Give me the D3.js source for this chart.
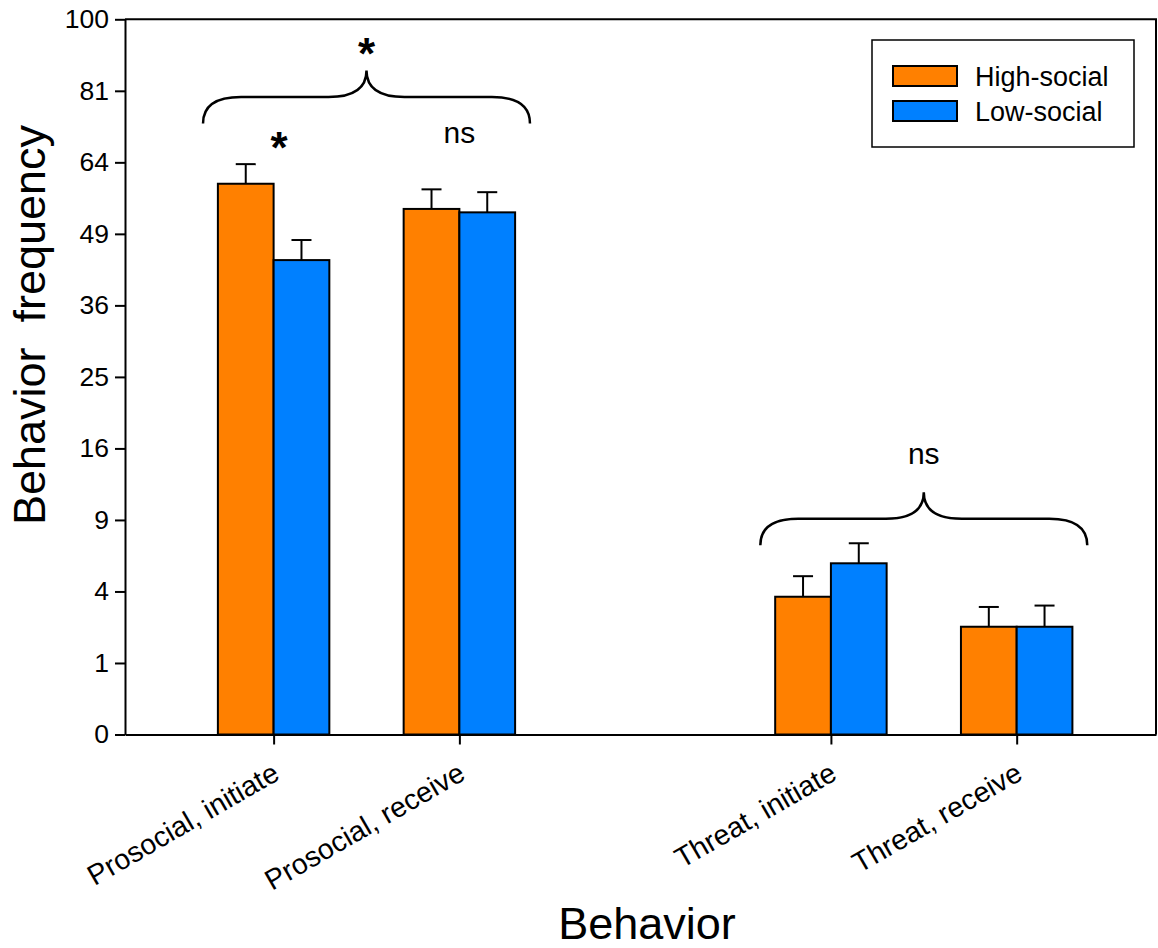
<!DOCTYPE html>
<html>
<head>
<meta charset="utf-8">
<script src="https://cdn.jsdelivr.net/npm/d3@7"></script>
<style>
  body { margin: 0; background: #fff; }
  text { font-family: "Liberation Sans", Arial, sans-serif; fill: #000; }
  .axis path, .axis line { stroke: #000; stroke-width: 2; }
</style>
</head>
<body>
<div id="chart"></div>
<script>
const categories = ["Prosocial, initiate", "Prosocial, receive", "Threat, initiate", "Threat, receive"];
const positions = [1, 2, 4, 5];
const series = ["High-social", "Low-social"];
const highMean = [59.3, 54.0, 3.71, 2.27];
const highUpper = [63.6, 58.1, 4.90, 3.18];
const lowMean = [44.0, 53.3, 5.73, 2.27];
const lowUpper = [47.8, 57.5, 7.15, 3.25];
const yTicks = [0, 1, 4, 9, 16, 25, 36, 49, 64, 81, 100];

// significance marks
const braces = [
    {x0: 0.62, x1: 2.38, base: 73, label: "*"},
    {x0: 3.62, x1: 5.38, base: 7.0, label: "ns"}
];
const pairLabels = [
    {x: 1.03, value: 68.5, label: "*"},
    {x: 2.0, value: 68.5, label: "ns"}
];

const width = 1158;
const height = 948;
const margin = {top: 19.3, left: 125, right: 2, bottom: 213.5};

const svg = d3.select("#chart")
    .append("svg")
    .attr("width", width)
    .attr("height", height);

const xScale = d3.scaleLinear()
    .domain([0.2, 5.75])
    .range([margin.left, width - margin.right]);
const yScale = d3.scaleSqrt()
    .domain([0, 100])
    .range([height - margin.bottom, margin.top]);
const colorScale = d3.scaleOrdinal()
    .domain(series)
    .range(["#ff8000", "#0080ff"]);

const barW = xScale(1.3) - xScale(1);

// frame (top + right)
svg.append("path")
    .attr("d", `M${margin.left},${margin.top}H${width - margin.right}V${height - margin.bottom}`)
    .attr("fill", "none")
    .attr("stroke", "#000")
    .attr("stroke-width", 2);

const rows = [];
categories.forEach(function(c, i) {
    rows.push({cat: c, pos: positions[i], s: series[0], mean: highMean[i], upper: highUpper[i], side: -1});
    rows.push({cat: c, pos: positions[i], s: series[1], mean: lowMean[i], upper: lowUpper[i], side: 0});
});

// error bars (upper only)
const err = svg.append("g").attr("stroke", "#000").attr("stroke-width", 2);
rows.forEach(function(d) {
    let cx = xScale(d.pos) + d.side * barW + barW / 2;
    err.append("line")
        .attr("x1", cx).attr("x2", cx)
        .attr("y1", yScale(d.mean)).attr("y2", yScale(d.upper));
    err.append("line")
        .attr("x1", cx - 10).attr("x2", cx + 10)
        .attr("y1", yScale(d.upper)).attr("y2", yScale(d.upper));
});

svg.selectAll("rect.bar")
    .data(rows)
    .enter()
    .append("rect")
        .attr("class", "bar")
        .attr("x", function(d) { return xScale(d.pos) + d.side * barW; })
        .attr("y", function(d) { return yScale(d.mean); })
        .attr("width", barW)
        .attr("height", function(d) { return yScale(0) - yScale(d.mean); })
        .attr("fill", function(d) { return colorScale(d.s); })
        .attr("stroke", "#000")
        .attr("stroke-width", 2);

const yAxis = svg.append("g")
    .attr("class", "axis")
    .attr("transform", `translate(${margin.left},0)`)
    .call(d3.axisLeft(yScale).tickValues(yTicks).tickSize(10).tickSizeOuter(0).tickPadding(6));
yAxis.selectAll("text").style("font-size", "26.5px");

const xAxis = svg.append("g")
    .attr("class", "axis")
    .attr("transform", `translate(0,${height - margin.bottom})`)
    .call(d3.axisBottom(xScale).tickValues(positions)
        .tickFormat(function(d, i) { return categories[i]; })
        .tickSize(10).tickSizeOuter(0));
xAxis.selectAll("text")
    .style("font-size", "28.5px")
    .attr("text-anchor", "end")
    .attr("y", 0).attr("dy", 0)
    .attr("transform", "translate(7,44) rotate(-30)");

// braces
braces.forEach(function(b) {
    let x0 = xScale(b.x0), x1 = xScale(b.x1), cx = (x0 + x1) / 2;
    let yE = yScale(b.base), yF = yE - 26.5, yP = yE - 53;
    let r = 38;
    svg.append("path")
        .attr("d", `M${x0},${yE}Q${x0},${yF} ${x0 + r},${yF}L${cx - r},${yF}Q${cx},${yF} ${cx},${yP}` +
            `Q${cx},${yF} ${cx + r},${yF}L${x1 - r},${yF}Q${x1},${yF} ${x1},${yE}`)
        .attr("fill", "none")
        .attr("stroke", "#000")
        .attr("stroke-width", 2.5);
    svg.append("text")
        .attr("x", cx)
        .attr("y", b.label == "*" ? yP - 1.5 : yP - 28)
        .attr("text-anchor", "middle")
        .style("font-size", b.label == "*" ? "44px" : "30px")
        .style("font-weight", b.label == "*" ? "bold" : "normal")
        .text(b.label);
});

pairLabels.forEach(function(p) {
    let isStar = p.label == "*";
    svg.append("text")
        .attr("x", xScale(p.x))
        .attr("y", yScale(p.value) + (isStar ? 20 : 0))
        .attr("text-anchor", "middle")
        .style("font-size", isStar ? "44px" : "30px")
        .style("font-weight", isStar ? "bold" : "normal")
        .text(p.label);
});

// legend
const legend = svg.append("g").attr("transform", "translate(872,40)");
legend.append("rect")
    .attr("width", 262).attr("height", 107)
    .attr("fill", "#fff").attr("stroke", "#000").attr("stroke-width", 1.5);
series.forEach(function(s, i) {
    legend.append("rect")
        .attr("x", 21).attr("y", 26 + i * 35)
        .attr("width", 64).attr("height", 20)
        .attr("fill", colorScale(s)).attr("stroke", "#000").attr("stroke-width", 2);
    legend.append("text")
        .attr("x", 103).attr("y", 46 + i * 35)
        .style("font-size", "27px")
        .text(s);
});

// axis titles
svg.append("text")
    .attr("x", 647)
    .attr("y", 939)
    .attr("text-anchor", "middle")
    .style("font-size", "45px")
    .text("Behavior");
svg.append("text")
    .attr("transform", "rotate(-90)")
    .attr("x", -325)
    .attr("y", 45)
    .attr("text-anchor", "middle")
    .style("font-size", "45px")
    .text("Behavior\u00a0\u00a0frequency");
</script>
</body>
</html>
